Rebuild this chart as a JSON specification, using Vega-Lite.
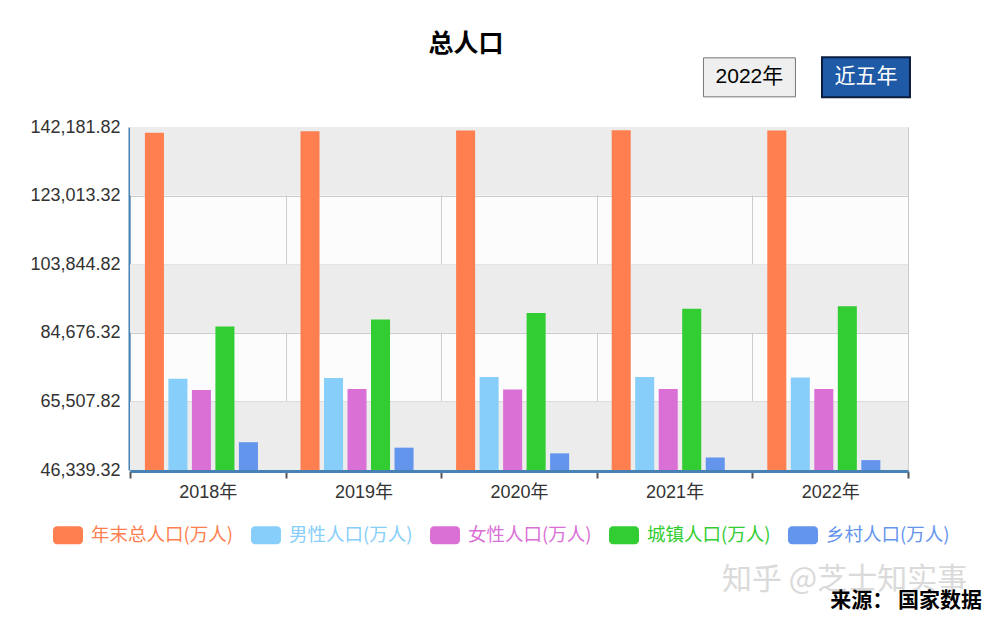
{
  "$schema": "https://vega.github.io/schema/vega-lite/v6.json",
  "autosize": "none",
  "width": 778,
  "height": 343,
  "padding": {"left": 130, "top": 127, "right": 85, "bottom": 150},
  "background": "white",
  "title": {"text": "总人口", "fontSize": 25, "fontWeight": "bold", "font": "Noto Sans CJK SC", "color": "#000000", "offset": -4, "dx": -53},
  "config": {"view": {"stroke": null, "fill": "#fcfcfc"}, "font": "Liberation Sans, Noto Sans CJK SC"},
  "datasets": {
    "population": [
      {"year": "2018年", "series": "年末总人口(万人)", "value": 140541},
      {"year": "2018年", "series": "男性人口(万人)", "value": 71864},
      {"year": "2018年", "series": "女性人口(万人)", "value": 68677},
      {"year": "2018年", "series": "城镇人口(万人)", "value": 86433},
      {"year": "2018年", "series": "乡村人口(万人)", "value": 54108},
      {"year": "2019年", "series": "年末总人口(万人)", "value": 141008},
      {"year": "2019年", "series": "男性人口(万人)", "value": 72039},
      {"year": "2019年", "series": "女性人口(万人)", "value": 68969},
      {"year": "2019年", "series": "城镇人口(万人)", "value": 88426},
      {"year": "2019年", "series": "乡村人口(万人)", "value": 52582},
      {"year": "2020年", "series": "年末总人口(万人)", "value": 141212},
      {"year": "2020年", "series": "男性人口(万人)", "value": 72357},
      {"year": "2020年", "series": "女性人口(万人)", "value": 68855},
      {"year": "2020年", "series": "城镇人口(万人)", "value": 90220},
      {"year": "2020年", "series": "乡村人口(万人)", "value": 50992},
      {"year": "2021年", "series": "年末总人口(万人)", "value": 141260},
      {"year": "2021年", "series": "男性人口(万人)", "value": 72311},
      {"year": "2021年", "series": "女性人口(万人)", "value": 68949},
      {"year": "2021年", "series": "城镇人口(万人)", "value": 91425},
      {"year": "2021年", "series": "乡村人口(万人)", "value": 49835},
      {"year": "2022年", "series": "年末总人口(万人)", "value": 141175},
      {"year": "2022年", "series": "男性人口(万人)", "value": 72206},
      {"year": "2022年", "series": "女性人口(万人)", "value": 68969},
      {"year": "2022年", "series": "城镇人口(万人)", "value": 92071},
      {"year": "2022年", "series": "乡村人口(万人)", "value": 49104}
    ],
    "bands": [
      {"lo": 46339.32, "hi": 65507.82},
      {"lo": 84676.32, "hi": 103844.82},
      {"lo": 123013.32, "hi": 142181.82}
    ]
  },
  "layer": [
    {
      "data": {"name": "bands"},
      "mark": {"type": "rect", "color": "#ececec"},
      "encoding": {
        "y": {"field": "lo", "type": "quantitative", "scale": {"domain": [46339.32, 142181.82], "nice": false, "zero": false}},
        "y2": {"field": "hi"}
      }
    },
    {
      "data": {"name": "population"},
      "mark": {"type": "bar"},
      "encoding": {
        "x": {
          "field": "year", "type": "nominal",
          "scale": {"paddingInner": 0, "paddingOuter": 0},
          "axis": {"title": null, "tickBand": "extent", "labelAngle": 0, "labelFontSize": 18, "labelColor": "#333333", "labelFont": "Liberation Sans, Noto Sans CJK SC", "tickSize": 7, "tickColor": "#555555", "tickWidth": 2, "labelPadding": 5, "domainColor": "#4682b4", "domainWidth": 3, "offset": 1, "grid": true, "gridColor": "#cccccc", "gridWidth": 1}
        },
        "xOffset": {
          "field": "series", "type": "nominal",
          "sort": ["年末总人口(万人)", "男性人口(万人)", "女性人口(万人)", "城镇人口(万人)", "乡村人口(万人)"],
          "scale": {"paddingInner": 0.19, "paddingOuter": 0.905, "align": 0.35}
        },
        "y": {
          "field": "value", "type": "quantitative",
          "scale": {"domain": [46339.32, 142181.82], "nice": false, "zero": false},
          "axis": {"title": null, "values": [46339.32, 65507.82, 84676.32, 103844.82, 123013.32, 142181.82], "format": ",.2f", "labelFontSize": 18, "labelColor": "#333333", "labelFont": "Liberation Sans", "tickSize": 0, "labelPadding": 9, "domainColor": "#4682b4", "domainWidth": 2, "offset": 1, "grid": true, "gridColor": "#cccccc", "gridWidth": 1}
        },
        "y2": {"datum": 46339.32},
        "color": {
          "field": "series", "type": "nominal",
          "scale": {"domain": ["年末总人口(万人)", "男性人口(万人)", "女性人口(万人)", "城镇人口(万人)", "乡村人口(万人)"], "range": ["#ff7f50", "#87cefa", "#da70d6", "#32cd32", "#6495ed"]},
          "legend": {
            "title": null, "orient": "none", "legendX": -77, "legendY": 393, "direction": "horizontal", "columns": 5,
            "symbolType": "M-0.73,-0.6H0.73A0.27,0.27,0,0,1,1,-0.33V0.33A0.27,0.27,0,0,1,0.73,0.6H-0.73A0.27,0.27,0,0,1,-1,0.33V-0.33A0.27,0.27,0,0,1,-0.73,-0.6Z",
            "symbolSize": 900, "symbolStrokeWidth": 0, "symbolOpacity": 1,
            "labelFontSize": 18.5, "labelFont": "Noto Sans CJK SC", "labelOffset": 8, "labelLimit": 300, "columnPadding": 16, "padding": 0,
            "encode": {"labels": {"update": {"fill": {"scale": "color", "field": "value"}}}}
          }
        }
      }
    },
    {
      "data": {"values": [{}]},
      "mark": {"type": "point", "shape": "M-1,-0.424H1V0.424H-1Z", "size": 8464, "filled": true, "fill": "#efefef", "stroke": "#767676", "strokeWidth": 1, "opacity": 1},
      "encoding": {
        "x": {"datum": "2021年", "bandPosition": 0.981},
        "y": {"datum": 156054, "type": "quantitative", "scale": {"domain": [46339.32, 142181.82], "nice": false, "zero": false}}
      }
    },
    {
      "data": {"values": [{}]},
      "mark": {"type": "text", "text": "2022年", "fontSize": 21, "font": "Liberation Sans, Noto Sans CJK SC", "color": "#000000", "align": "center", "baseline": "middle"},
      "encoding": {
        "x": {"datum": "2021年", "bandPosition": 0.981},
        "y": {"datum": 156054, "type": "quantitative", "scale": {"domain": [46339.32, 142181.82], "nice": false, "zero": false}}
      }
    },
    {
      "data": {"values": [{}]},
      "mark": {"type": "point", "shape": "M-1,-0.4545H1V0.4545H-1Z", "size": 7744, "filled": true, "fill": "#1f5aa6", "stroke": "#0b1d3f", "strokeWidth": 2, "opacity": 1},
      "encoding": {
        "x": {"datum": "2022年", "bandPosition": 0.73},
        "y": {"datum": 156054, "type": "quantitative", "scale": {"domain": [46339.32, 142181.82], "nice": false, "zero": false}}
      }
    },
    {
      "data": {"values": [{}]},
      "mark": {"type": "text", "text": "近五年", "fontSize": 21, "font": "Noto Sans CJK SC", "color": "#ffffff", "align": "center", "baseline": "middle"},
      "encoding": {
        "x": {"datum": "2022年", "bandPosition": 0.73},
        "y": {"datum": 156054, "type": "quantitative", "scale": {"domain": [46339.32, 142181.82], "nice": false, "zero": false}}
      }
    },
    {
      "data": {"values": [{}]},
      "mark": {"type": "text", "text": "知乎 @芝士知实事", "fontSize": 30, "font": "Noto Sans CJK SC", "color": "#dadada", "align": "left", "baseline": "middle"},
      "encoding": {
        "x": {"datum": "2021年", "bandPosition": 0.805},
        "y": {"datum": 15500, "type": "quantitative", "scale": {"domain": [46339.32, 142181.82], "nice": false, "zero": false}}
      }
    },
    {
      "data": {"values": [{}]},
      "mark": {"type": "text", "text": "来源：    国家数据", "fontSize": 21, "fontWeight": "bold", "font": "Noto Sans CJK SC", "color": "#000000", "align": "right", "baseline": "middle"},
      "encoding": {
        "x": {"datum": "2022年", "bandPosition": 1.476},
        "y": {"datum": 9700, "type": "quantitative", "scale": {"domain": [46339.32, 142181.82], "nice": false, "zero": false}}
      }
    }
  ]
}
